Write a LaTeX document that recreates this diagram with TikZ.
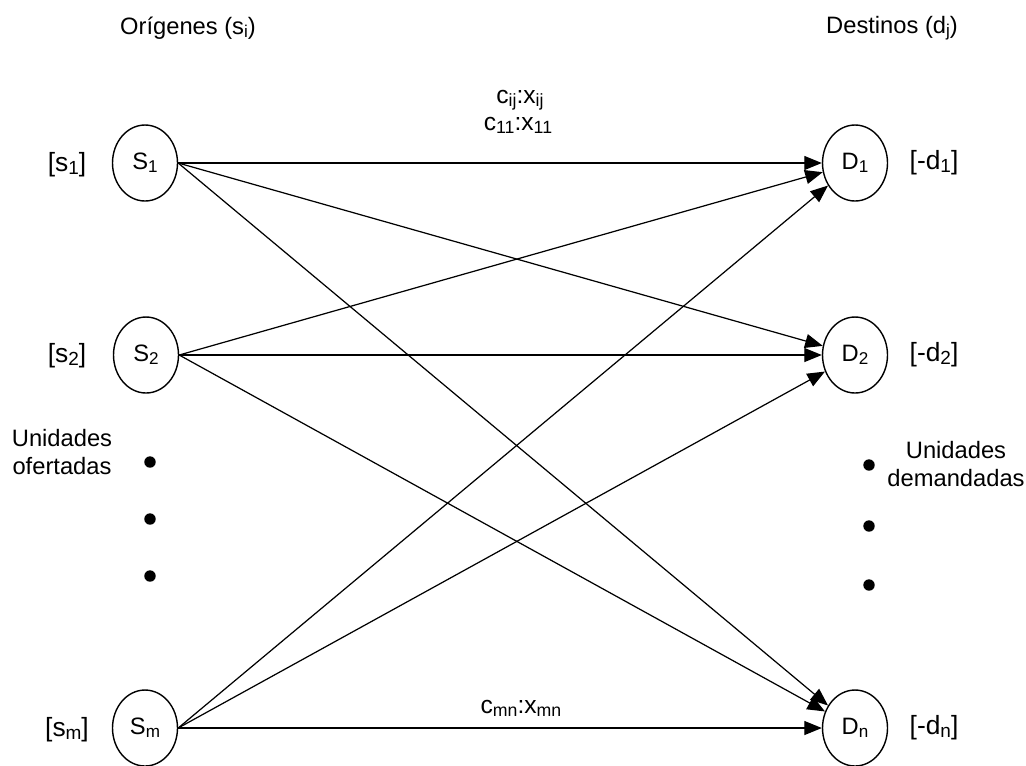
\documentclass[tikz,border=0pt]{standalone}
\usepackage{fontspec}
\setmainfont{Liberation Sans}
\usetikzlibrary{shapes.geometric,arrows.meta}
\newcommand{\sbs}[1]{\raisebox{-0.12em}{\scalebox{0.72}{#1}}}
\begin{document}
\begin{tikzpicture}[
  x=0.02cm,
  y=-0.02cm,
  font=\fontsize{13.5}{15.5}\selectfont,
  site/.style={draw, ellipse, line width=0.8pt, minimum width=1.3cm, minimum height=1.52cm, inner sep=0pt},
  flow/.style={line width=0.7pt, -{Triangle[length=10pt,width=8pt]}},
  bound/.style={font=\fontsize{15}{17}\selectfont},
  cost/.style={font=\fontsize{14}{16}\selectfont},
  dot/.style={circle, fill=black, inner sep=0pt, minimum size=6.5pt}
]
\useasboundingbox (0,0) rectangle (1026,765);

\node (orig) at (188,28) {Orígenes (s\sbs{i})};
\node (dest) at (892,28) {Destinos (d\sbs{j})};

% origenes
\node[site] (S1) at (145,163) {S\sbs{1}};
\node[site] (S2) at (146,355) {S\sbs{2}};
\node[site] (Sm) at (145,728) {S\sbs{m}};
\node[bound] (s1) at (67,165) {[s\sbs{1}]};
\node[bound] (s2) at (67,356) {[s\sbs{2}]};
\node[bound] (sm) at (67,730) {[s\sbs{m}]};

% destinos
\node[site] (D1) at (855,163) {D\sbs{1}};
\node[site] (D2) at (855,355) {D\sbs{2}};
\node[site] (Dn) at (855,728) {D\sbs{n}};
\node[bound] (d1) at (934,163) {[-d\sbs{1}]};
\node[bound] (d2) at (934,355) {[-d\sbs{2}]};
\node[bound] (dn) at (934,728) {[-d\sbs{n}]};

\foreach \s in {S1,S2,Sm} {
  \foreach \d in {D1,D2,Dn} {
    \draw[flow] (\s.east) -- (\d);
  }
}

\node[cost] (cij) at (520,100) {c\sbs{ij}:x\sbs{ij}};
\node[cost] (c11) at (518,125) {c\sbs{11}:x\sbs{11}};
\node[cost] (cmn) at (521,708) {c\sbs{mn}:x\sbs{mn}};

\node[align=center] (ofer) at (62,452) {Unidades\\ofertadas};
\node[align=center] (dema) at (956,464) {Unidades\\demandadas};

\foreach \y [count=\i] in {462,519,576} {
  \node[dot] (ldot\i) at (150,\y) {};
}
\foreach \y [count=\i] in {465,526,585} {
  \node[dot] (rdot\i) at (869,\y) {};
}
\end{tikzpicture}
\end{document}
